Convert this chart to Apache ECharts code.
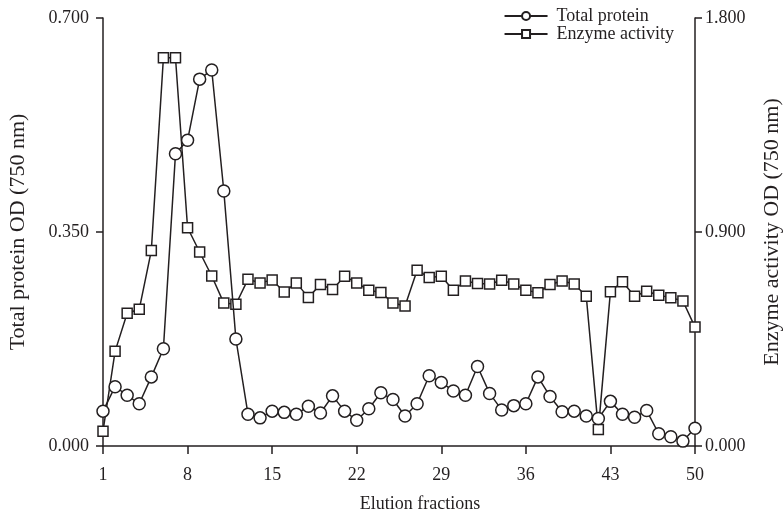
<!DOCTYPE html>
<html>
<head>
<meta charset="utf-8">
<script src="https://cdn.jsdelivr.net/npm/echarts@6/dist/echarts.min.js"></script>
<style>
  html, body { margin: 0; padding: 0; background: #fff; }
  #chart { width: 784px; height: 515px; }
</style>
</head>
<body>
<div id="chart"></div>
<script>
// fractions 1..50
const fractions = [
  1, 2, 3, 4, 5, 6, 7, 8, 9, 10, 11, 12, 13, 14, 15, 16, 17, 18, 19, 20,
  21, 22, 23, 24, 25, 26, 27, 28, 29, 30, 31, 32, 33, 34, 35, 36, 37, 38, 39, 40,
  41, 42, 43, 44, 45, 46, 47, 48, 49, 50
]

// total protein OD (left axis)
const totalProtein = [
  0.057, 0.097, 0.083, 0.069, 0.113, 0.159, 0.478, 0.500, 0.600, 0.615,
  0.417, 0.175, 0.052, 0.046, 0.057, 0.055, 0.052, 0.065, 0.054, 0.082,
  0.057, 0.042, 0.061, 0.087, 0.076, 0.049, 0.069, 0.115, 0.104, 0.090,
  0.083, 0.130, 0.086, 0.059, 0.066, 0.069, 0.113, 0.081, 0.056, 0.057,
  0.049, 0.045, 0.073, 0.052, 0.047, 0.058, 0.020, 0.015, 0.008, 0.029
]

// enzyme activity OD (right axis)
const enzymeActivity = [
  0.062, 0.398, 0.558, 0.575, 0.822, 1.633, 1.633, 0.918, 0.816, 0.715,
  0.601, 0.596, 0.701, 0.686, 0.698, 0.648, 0.686, 0.625, 0.679, 0.658,
  0.714, 0.686, 0.655, 0.646, 0.601, 0.589, 0.739, 0.709, 0.714, 0.655,
  0.694, 0.683, 0.681, 0.697, 0.681, 0.655, 0.645, 0.679, 0.694, 0.681,
  0.630, 0.069, 0.649, 0.691, 0.630, 0.651, 0.634, 0.624, 0.610, 0.500
]

const ink = '#231f20'
const serif = 'Liberation Serif'

var myChart = echarts.init(document.getElementById('chart'))
var option

option = {
  animation: false,
  textStyle: { fontFamily: serif, color: ink },
  legend: {
    orient: 'vertical',
    right: 105,
    top: 2,
    itemWidth: 43,
    itemHeight: 10,
    itemGap: 0,
    textStyle: { fontFamily: serif, fontSize: 18, color: ink, padding: [0, 0, 0, 4] },
    data: ['Total protein', 'Enzyme activity']
  },
  grid: {
    left: 103,
    right: 89,
    top: 18,
    bottom: 69,
    containLabel: false,
    outerBoundsMode: 'none'
  },
  xAxis: {
    type: 'category',
    boundaryGap: false,
    data: fractions,
    name: 'Elution fractions',
    nameLocation: 'middle',
    nameGap: 49,
    nameTextStyle: { fontFamily: serif, fontSize: 18, color: ink, padding: [0, 0, 0, 42] },
    axisLine: { lineStyle: { color: ink, width: 1.5 } },
    axisTick: { interval: 6, length: 8, lineStyle: { color: ink, width: 1.5 } },
    axisLabel: { interval: 6, margin: 20, fontFamily: serif, fontSize: 18, color: ink },
    splitLine: { show: false }
  },
  yAxis: [
    {
      type: 'value',
      min: 0,
      max: 0.7,
      interval: 0.35,
      name: 'Total protein OD (750 nm)',
      nameLocation: 'middle',
      nameGap: 74,
      nameTextStyle: { fontFamily: serif, fontSize: 22, color: ink },
      axisLine: { show: true, lineStyle: { color: ink, width: 1.5 } },
      axisTick: { show: true, length: 7, lineStyle: { color: ink, width: 1.5 } },
      axisLabel: {
        margin: 14,
        fontFamily: serif,
        fontSize: 18,
        color: ink,
        formatter: (v) => v.toFixed(3)
      },
      splitLine: { show: false }
    },
    {
      type: 'value',
      min: 0,
      max: 1.8,
      interval: 0.9,
      position: 'right',
      name: 'Enzyme activity OD (750 nm)',
      nameLocation: 'middle',
      nameGap: 66,
      nameRotate: 90,
      nameTextStyle: { fontFamily: serif, fontSize: 22, color: ink },
      axisLine: { show: true, lineStyle: { color: ink, width: 1.5 } },
      axisTick: { show: true, length: 7, lineStyle: { color: ink, width: 1.5 } },
      axisLabel: {
        margin: 10,
        fontFamily: serif,
        fontSize: 18,
        color: ink,
        formatter: (v) => v.toFixed(3)
      },
      splitLine: { show: false }
    }
  ],
  series: [
    {
      name: 'Total protein',
      type: 'line',
      yAxisIndex: 0,
      data: totalProtein,
      symbol: 'circle',
      symbolSize: 12,
      showAllSymbol: true,
      lineStyle: { color: ink, width: 1.5 },
      itemStyle: { color: '#fff', borderColor: ink, borderWidth: 1.5 },
      z: 3
    },
    {
      name: 'Enzyme activity',
      type: 'line',
      yAxisIndex: 1,
      data: enzymeActivity,
      symbol: 'rect',
      symbolSize: 10,
      showAllSymbol: true,
      lineStyle: { color: ink, width: 1.5 },
      itemStyle: { color: '#fff', borderColor: ink, borderWidth: 1.5 },
      z: 2
    }
  ]
}

option && myChart.setOption(option)
</script>
</body>
</html>
